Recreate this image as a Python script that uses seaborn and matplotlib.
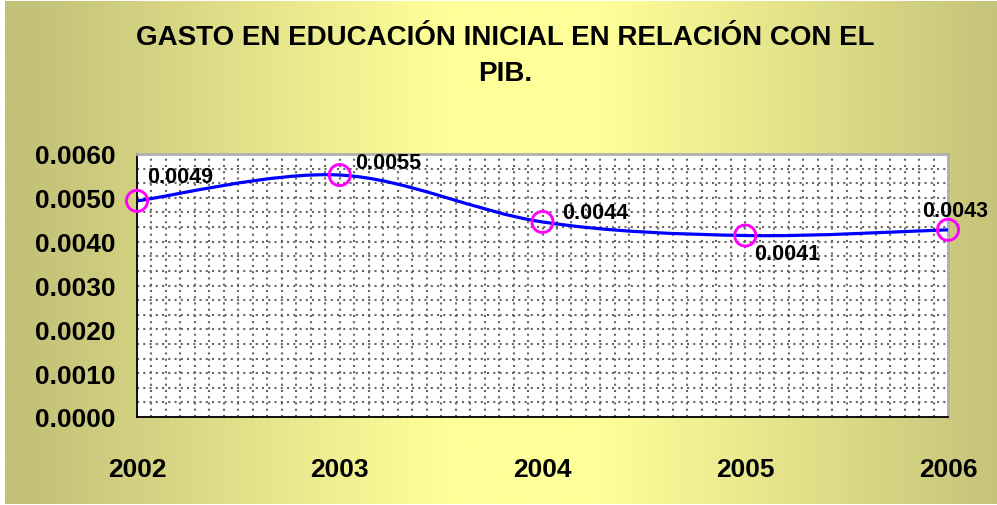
import numpy as np
import pandas as pd
import seaborn as sns
import matplotlib.pyplot as plt
from matplotlib.path import Path
from matplotlib.patches import PathPatch
from matplotlib.ticker import MultipleLocator, FormatStrFormatter

# Data
years = [2002, 2003, 2004, 2005, 2006]
gasto = [0.00493, 0.00552, 0.00445, 0.00414, 0.00427]
labels = ['0.0049', '0.0055', '0.0044', '0.0041', '0.0043']
title = 'GASTO EN EDUCACIÓN INICIAL EN RELACIÓN CON EL\nPIB.'

df = pd.DataFrame({'year': years, 'gasto': gasto})

sns.set_style('white')
plt.rcParams['font.family'] = ['Liberation Sans', 'DejaVu Sans']
plt.rcParams['font.weight'] = 'bold'
plt.rcParams['text.color'] = 'black'
plt.rcParams['xtick.labelcolor'] = 'black'
plt.rcParams['ytick.labelcolor'] = 'black'

fig = plt.figure(figsize=(9.97, 5.06), dpi=100)

# Background gradient (olive at sides, pale yellow in the middle)
bg = fig.add_axes([5 / 997, 1 / 506, 992 / 997, 503 / 506], zorder=-10)
xs = np.linspace(0, 1, 400)
t = np.clip((np.abs(xs - 0.52) - 0.08) / 0.42, 0, 1)
edge = np.array([195, 192, 121]) / 255
mid = np.array([255, 255, 153]) / 255
cols = mid[None, :] * (1 - t[:, None]) + edge[None, :] * t[:, None]
bg.imshow(cols[None, :, :], aspect='auto', extent=[0, 1, 0, 1])
bg.set_axis_off()

ax = fig.add_axes([137 / 997, 1 - 418 / 506, (948 - 137) / 997, (418 - 155) / 506])
ax.set_facecolor('white')

# Smoothed line (Excel-style Bezier through the points)
pts = np.column_stack([years, gasto]).astype(float)
verts = [pts[0]]
codes = [Path.MOVETO]
n = len(pts)
for i in range(n - 1):
    p0 = pts[max(i - 1, 0)]
    p1 = pts[i]
    p2 = pts[i + 1]
    p3 = pts[min(i + 2, n - 1)]
    c1 = p1 + (p2 - p0) / 6
    c2 = p2 - (p3 - p1) / 6
    verts += [c1, c2, p2]
    codes += [Path.CURVE4] * 3
ax.add_patch(PathPatch(Path(verts, codes), facecolor='none', edgecolor='#0000ff',
                       lw=2.3, zorder=3, clip_on=False))

sns.scatterplot(data=df, x='year', y='gasto', ax=ax, s=230, marker='o',
                facecolor='none', edgecolor='#ff00ff', linewidth=2.1, zorder=4,
                clip_on=False)

offsets = [(10, 24), (15, 13), (20, 9), (9, -18), (-26, 19)]
for x, y, lab, off in zip(years, gasto, labels, offsets):
    ax.annotate(lab, (x, y), xytext=off, textcoords='offset pixels',
                ha='left', va='center', fontsize=15.5, fontweight='bold',
                color='black', zorder=5)

ax.set_xlim(2002, 2006)
ax.set_ylim(0, 0.006)
ax.xaxis.set_major_locator(MultipleLocator(1))
ax.xaxis.set_minor_locator(MultipleLocator(1 / 14))
ax.yaxis.set_major_locator(MultipleLocator(0.001))
ax.yaxis.set_minor_locator(MultipleLocator(0.001 / 3))
ax.yaxis.set_major_formatter(FormatStrFormatter('%.4f'))
ax.grid(which='both', linestyle=(0, (1, 2)), color='#666666', lw=1.5)
ax.set_axisbelow(True)

ax.tick_params(axis='both', which='major', direction='inout', length=13, width=1,
               color='black', labelcolor='black', labelsize=19)
ax.tick_params(axis='y', which='major', pad=9)
ax.tick_params(axis='x', which='major', pad=22)
ax.tick_params(which='minor', length=0)
for lab in ax.get_xticklabels() + ax.get_yticklabels():
    lab.set_fontweight('bold')

ax.set_xlabel('')
ax.set_ylabel('')
for s in ['left', 'bottom']:
    ax.spines[s].set_color('black')
    ax.spines[s].set_linewidth(1.3)
for s in ['top', 'right']:
    ax.spines[s].set_color('#b0b0b0')
    ax.spines[s].set_linewidth(2)

fig.text(505 / 997, 1 - 56 / 506, title, ha='center', va='center',
         fontsize=20, fontweight='bold', color='black', linespacing=1.5)

fig.savefig('out.png', dpi=100)
